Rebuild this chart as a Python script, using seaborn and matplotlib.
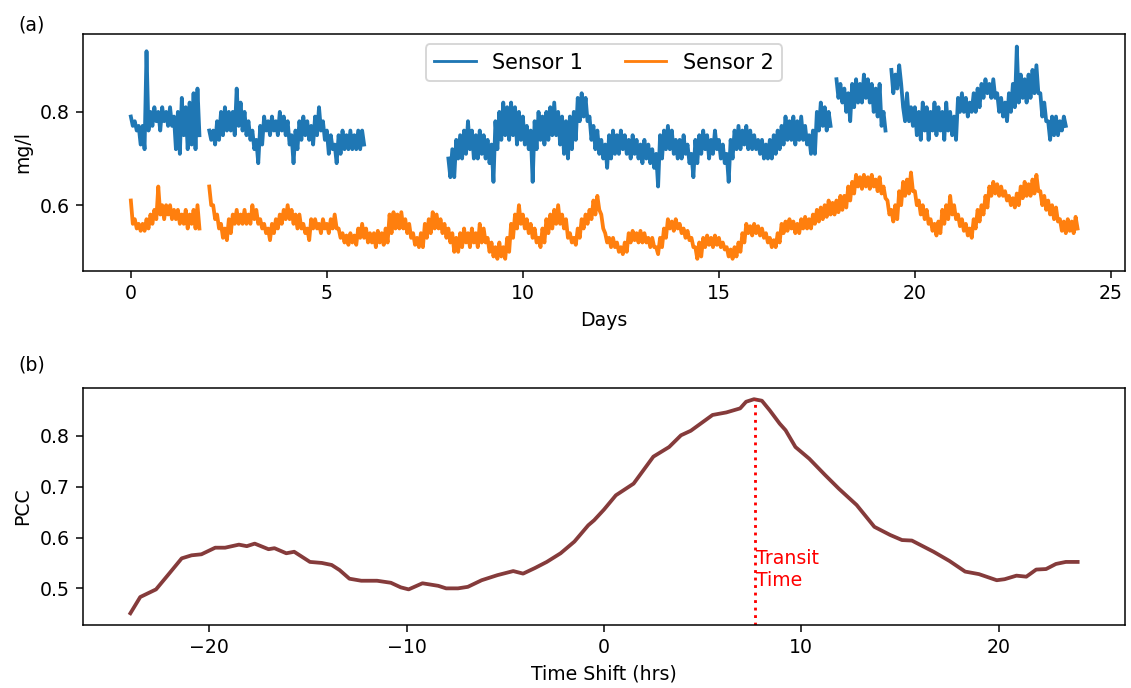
import numpy as np
import pandas as pd
import matplotlib
matplotlib.use('Agg')
import matplotlib.pyplot as plt
import seaborn as sns

nan = np.nan

# top panel: local high / low of each 0.1-day window (mg/l)
# one row per day, nan = no data
s1_hi = [
    .79, .78, .77, .77, .93, .80, .81, .80, .81, .80,
    .81, .79, .80, .83, .81, .82, .84, .85, nan, nan,
    .76, .76, .78, .80, .81, .80, .80, .85, .82, .80,
    .78, .76, .74, .77, .79, .78, .79, .78, .80, .79,
    .78, .75, .76, .78, .79, .78, .77, .79, .81, .78,
    .76, .75, .73, .75, .76, .75, .76, .75, .76, .76,
    nan, nan, nan, nan, nan, nan, nan, nan, nan, nan,
    nan, nan, nan, nan, nan, nan, nan, nan, nan, nan,
    nan, .70, .72, .74, .75, .76, .78, .76, .75, .76,
    .75, .74, .73, .78, .80, .82, .81, .82, .81, .80,
    .79, .77, .76, .78, .80, .79, .80, .81, .82, .80,
    .79, .78, .79, .80, .83, .84, .83, .79, .77, .76,
    .74, .73, .75, .76, .75, .76, .75, .74, .75, .74,
    .73, .74, .73, .72, .71, .75, .76, .77, .76, .74,
    .74, .75, .73, .71, .74, .75, .76, .75, .74, .76,
    .74, .73, .71, .74, .76, .77, .76, .77, .76, .75,
    .74, .74, .73, .74, .75, .76, .77, .79, .78, .79,
    .78, .79, .77, .75, .76, .80, .82, .81, .80, nan,
    .87, .86, .85, .84, .86, .87, .86, .88, .87, .86,
    .85, .86, .80, nan, .89, .88, .90, .81, .84, .81,
    .81, .80, .82, .81, .80, .82, .81, .80, .82, .80,
    .79, .83, .84, .83, .82, .84, .85, .86, .87, .86,
    .87, .84, .83, .82, .84, .86, .94, .88, .87, .88,
    .89, .90, .84, .82, .78, .79, .79, .78, .79, nan,
    nan, nan,
]
s1_lo = [
    .77, .76, .73, .72, .76, .77, .78, .76, .78, .77,
    .77, .72, .71, .75, .72, .73, .72, .75, nan, nan,
    .74, .73, .74, .75, .76, .76, .75, .77, .76, .75,
    .74, .72, .69, .73, .76, .75, .76, .75, .76, .75,
    .73, .69, .72, .74, .75, .74, .73, .75, .76, .74,
    .71, .72, .69, .71, .72, .72, .72, .72, .72, .73,
    nan, nan, nan, nan, nan, nan, nan, nan, nan, nan,
    nan, nan, nan, nan, nan, nan, nan, nan, nan, nan,
    nan, .66, .66, .70, .70, .71, .72, .70, .70, .71,
    .70, .69, .65, .72, .74, .75, .74, .75, .73, .74,
    .73, .72, .65, .72, .74, .73, .74, .75, .75, .73,
    .71, .70, .72, .74, .78, .79, .78, .74, .72, .71,
    .70, .68, .70, .71, .71, .72, .71, .70, .71, .70,
    .69, .70, .69, .68, .64, .70, .72, .72, .71, .70,
    .70, .71, .69, .66, .69, .71, .72, .70, .71, .72,
    .70, .69, .65, .70, .72, .72, .73, .72, .72, .72,
    .71, .70, .70, .70, .71, .72, .73, .74, .74, .73,
    .74, .74, .73, .71, .71, .76, .77, .76, .77, nan,
    .83, .82, .80, .78, .81, .82, .82, .83, .82, .80,
    .79, .77, .76, nan, .84, .85, .86, .78, .78, .77,
    .75, .74, .76, .74, .76, .75, .76, .74, .76, .75,
    .74, .80, .80, .79, .80, .80, .81, .83, .84, .83,
    .83, .80, .79, .78, .80, .81, .82, .83, .82, .83,
    .84, .84, .79, .78, .74, .75, .75, .76, .77, nan,
    nan, nan,
]
s2_hi = [
    .61, .57, .56, .56, .57, .58, .59, .64, .60, .60,
    .60, .59, .59, .58, .59, .58, .59, .60, nan, nan,
    .64, .60, .58, .56, .55, .57, .58, .59, .58, .59,
    .58, .60, .59, .57, .56, .55, .56, .57, .58, .59,
    .60, .59, .58, .58, .56, .55, .57, .57, .56, .57,
    .56, .57, .58, .55, .54, .535, .54, .535, .55, .56,
    .55, .54, .54, .545, .54, .55, .58, .585, .58, .585,
    .57, .56, .54, .53, .54, .56, .57, .585, .58, .57,
    .56, .55, .54, .53, .54, .55, .54, .55, .54, .56,
    .55, .53, .52, .51, .52, .51, .53, .56, .58, .60,
    .58, .57, .56, .55, .53, .55, .57, .58, .59, .60,
    .58, .57, .54, .53, .55, .57, .58, .59, .61, .62,
    .58, .54, .53, .53, .52, .51, .52, .54, .545, .54,
    .545, .54, .53, .53, .51, .53, .55, .57, .565, .57,
    .56, .55, .545, .53, .51, .52, .53, .535, .53, .535,
    .53, .52, .51, .505, .51, .52, .54, .56, .555, .56,
    .555, .55, .54, .53, .525, .54, .56, .565, .57, .565,
    .56, .57, .575, .57, .58, .59, .595, .60, .61, .605,
    .61, .62, .62, .64, .65, .665, .66, .665, .66, .665,
    .655, .66, .64, .61, .59, .60, .63, .65, .655, .67,
    .63, .61, .60, .59, .57, .56, .565, .59, .60, .62,
    .60, .58, .57, .56, .55, .57, .59, .60, .62, .64,
    .65, .645, .64, .63, .62, .615, .625, .64, .65, .645,
    .655, .665, .63, .62, .61, .60, .595, .57, .565, .57,
    .565, .575,
]
s2_lo = [
    .56, .55, .545, .545, .55, .56, .57, .58, .57, .58,
    .57, .57, .56, .56, .55, .56, .55, .55, nan, nan,
    .60, .57, .55, .53, .525, .54, .56, .56, .56, .56,
    .56, .57, .56, .55, .54, .525, .54, .55, .56, .57,
    .57, .56, .55, .55, .54, .525, .55, .55, .54, .55,
    .54, .55, .55, .53, .52, .515, .52, .515, .53, .53,
    .52, .52, .51, .52, .515, .52, .54, .55, .55, .55,
    .54, .53, .515, .51, .51, .53, .54, .55, .55, .54,
    .53, .52, .50, .50, .51, .52, .51, .52, .51, .52,
    .52, .50, .49, .485, .49, .485, .50, .53, .55, .56,
    .55, .54, .53, .52, .51, .52, .54, .55, .56, .56,
    .55, .53, .52, .515, .53, .55, .56, .57, .58, .59,
    .55, .52, .51, .51, .50, .495, .50, .52, .525, .52,
    .52, .52, .51, .51, .495, .51, .53, .55, .545, .55,
    .54, .53, .525, .51, .485, .49, .51, .515, .51, .515,
    .51, .505, .49, .485, .49, .50, .52, .54, .535, .54,
    .535, .53, .52, .51, .51, .52, .54, .545, .55, .54,
    .54, .55, .55, .55, .56, .565, .57, .575, .58, .58,
    .585, .59, .595, .61, .625, .64, .635, .64, .635, .64,
    .63, .625, .615, .58, .565, .57, .60, .62, .625, .63,
    .60, .58, .57, .56, .545, .535, .54, .56, .57, .58,
    .57, .555, .545, .535, .53, .55, .565, .58, .595, .62,
    .625, .62, .62, .61, .60, .595, .60, .615, .62, .62,
    .625, .63, .60, .59, .58, .57, .565, .545, .54, .545,
    .54, .55,
]

# bottom panel: cross-correlation vs time shift
shift_hrs = [-24.0, -23.5, -22.7, -22.1, -21.4, -20.9, -20.4, -19.7, -19.2, -18.5,
             -18.1, -17.7, -17.0, -16.7, -16.1, -15.7, -14.9, -14.3, -13.8, -13.4,
             -12.9, -12.3, -11.5, -10.8, -10.3, -9.9, -9.2, -8.4, -8.0, -7.4,
             -6.9, -6.2, -5.4, -4.6, -4.1, -3.5, -2.9, -2.2, -1.5, -0.8,
             -0.5, 0.0, 0.6, 1.5, 2.5, 3.3, 3.9, 4.4, 5.5, 6.2,
             6.9, 7.2, 7.6, 8.0, 8.4, 8.9, 9.2, 9.7, 10.4, 11.2,
             11.9, 12.8, 13.7, 14.5, 15.1, 15.6, 16.7, 17.5, 18.3, 19.0,
             19.9, 20.3, 20.9, 21.4, 21.9, 22.4, 22.9, 23.4, 24.0]
pcc = [.451, .483, .498, .526, .559, .565, .567, .580, .580, .586,
       .583, .588, .577, .579, .569, .572, .552, .550, .546, .536,
       .519, .515, .515, .511, .502, .498, .510, .505, .500, .500,
       .503, .516, .526, .534, .529, .540, .552, .569, .592, .624,
       .634, .655, .683, .706, .759, .778, .801, .810, .841, .846,
       .854, .867, .872, .869, .850, .824, .811, .778, .755, .723,
       .696, .664, .621, .605, .595, .594, .572, .554, .533, .528,
       .516, .518, .525, .523, .537, .538, .548, .552, .552]
transit_hrs = 7.66


def sensor_frame(hi, lo, name):
    rows = []
    seg = 0
    for i, (h, l) in enumerate(zip(hi, lo)):
        d = i * 0.1
        if np.isnan(h):
            seg += 1
            continue
        rows.append((d, h, name, f'{name}-{seg}'))
        rows.append((d + 0.05, l, name, f'{name}-{seg}'))
    return pd.DataFrame(rows, columns=['Days', 'mg/l', 'Sensor', 'seg'])


df = pd.concat([sensor_frame(s1_hi, s1_lo, 'Sensor 1'),
                sensor_frame(s2_hi, s2_lo, 'Sensor 2')], ignore_index=True)

dpi = 136
fig, (ax1, ax2) = plt.subplots(2, 1, figsize=(1131 / dpi, 688 / dpi), dpi=dpi)
fig.subplots_adjust(left=0.0734, right=0.9947, top=0.9506, bottom=0.0916, hspace=0.494)

sns.lineplot(data=df, x='Days', y='mg/l', hue='Sensor', units='seg', estimator=None,
             sort=False, palette=['#1f77b4', '#ff7f0e'], linewidth=2.0, ax=ax1)
ax1.set_xlim(-1.22, 25.36)
ax1.set_ylim(0.459, 0.967)
ax1.set_xticks([0, 5, 10, 15, 20, 25])
ax1.set_yticks([0.6, 0.8])
ax1.set_xlabel('Days')
ax1.set_ylabel('mg/l')
sns.move_legend(ax1, 'upper center', ncol=2, title=None, frameon=True, fontsize=11)
for line in ax1.get_legend().get_lines():
    line.set_linewidth(1.5)

sns.lineplot(x=shift_hrs, y=pcc, sort=False, color='#853b3b', linewidth=2.0, ax=ax2)
ylo, yhi = 0.428, 0.894
ax2.set_xlim(-26.4, 26.4)
ax2.set_ylim(ylo, yhi)
ax2.set_xticks([-20, -10, 0, 10, 20])
ax2.set_yticks([0.5, 0.6, 0.7, 0.8])
ax2.axvline(transit_hrs, ymin=0, ymax=(max(pcc) - ylo) / (yhi - ylo),
            color='red', linestyle=':', linewidth=1.5)
ax2.text(transit_hrs + 0.05, 0.538, 'Transit\nTime', color='red', ha='left', va='center')
ax2.set_xlabel('Time Shift (hrs)')
ax2.set_ylabel('PCC')

fig.text(0.016, 0.963, '(a)', ha='left', va='center')
fig.text(0.016, 0.4695, '(b)', ha='left', va='center')

fig.savefig('out.png', dpi=dpi)
